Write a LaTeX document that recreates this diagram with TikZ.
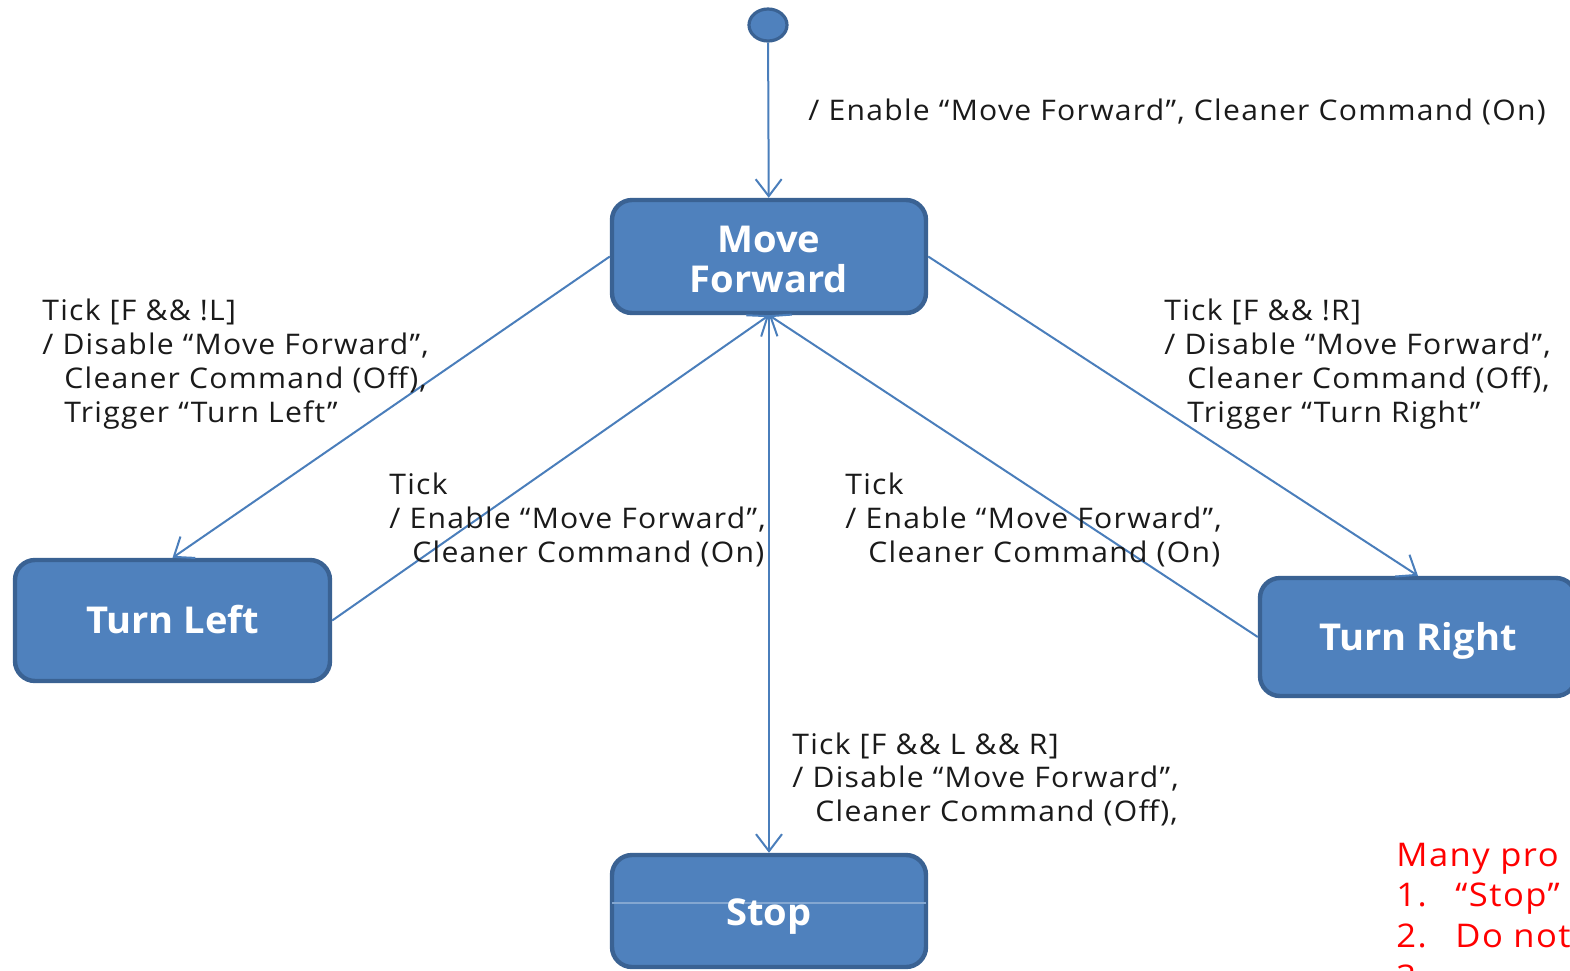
\documentclass[tikz,border=0pt]{standalone}
\usepackage{fontspec}
\setmainfont{Open Sans}[FakeStretch=1.06, LetterSpace=4.5]
\newfontfamily\statefont{Open Sans}[FakeStretch=1.03]
\usetikzlibrary{arrows.meta,shapes.geometric}
\definecolor{stfill}{HTML}{4F81BD}
\definecolor{stedge}{HTML}{3A6293}
\definecolor{wire}{HTML}{4A7EBB}
\definecolor{ink}{HTML}{1A1A1A}
\tikzset{
  state/.style={draw=stedge, line width=2.2pt, fill=stfill, rounded corners=10pt,
    text=white, font=\statefont\bfseries\fontsize{18.5}{20}\selectfont, align=center, inner sep=0pt},
  capline/.style={text height=13pt, text depth=0pt},
  trans/.style={draw=wire, line width=1pt, -{Straight Barb[length=8.5pt,width=13pt,line width=1pt]}},
  lbl/.style={anchor=base west, inner sep=0pt, text=ink, font=\fontsize{14.2}{17}\selectfont},
  note/.style={anchor=base west, inner sep=0pt, text=red, font=\fontsize{16.3}{20}\selectfont},
}
\begin{document}
\begin{tikzpicture}[x=0.5pt, y=-0.5pt]
  \useasboundingbox (0,0) rectangle (1570,970);
  \clip (0,0) rectangle (1570,970);

  % initial pseudo-state
  \node[draw=stedge, line width=1.6pt, fill=stfill, ellipse, minimum width=19pt, minimum height=16pt, inner sep=0pt] (init) at (768,25) {};

  % states
  \node[state, minimum width=157pt, minimum height=56.5pt] (mf) at (769,256.5) {};
  \node[state, draw=none, fill=none] (mflbl) at (769,259) {Move\\Forward};
  \node[state, capline, minimum width=157.5pt, minimum height=60.5pt] (tl) at (172.5,620.5) {Turn Left};
  \node[state, capline, minimum width=158pt, minimum height=59pt] (tr) at (1418,637) {Turn Right};
  \node[state, capline, minimum width=157pt, minimum height=56pt] (stop) at (769,911) {};
  \draw[color=stfill!70!white, line width=0.6pt] ([xshift=1.2pt,yshift=4pt]stop.west) -- ([xshift=-1.2pt,yshift=4pt]stop.east);
  \node[state, capline, draw=none, fill=none] (stoplbl) at (769,912) {Stop};

  % transitions
  \draw[trans] (init) -- (mf);
  \draw[trans] (mf.west) -- (tl.north);
  \draw[trans] (tl.east) -- (mf.south);
  \draw[trans] (mf.south) -- (stop.north);
  \draw[trans] (mf.east) -- (tr.north);
  \draw[trans] (tr.west) -- (mf.south);

  % transition labels
  \node[lbl] (t0) at (808,120) {/ Enable “Move Forward”, Cleaner Command (On)};

  \node[lbl] (t1a) at (42,320) {Tick [F \&\& !L]};
  \node[lbl] (t1b) at (42,354) {/ Disable “Move Forward”,};
  \node[lbl] (t1c) at (64,388) {Cleaner Command (Off),};
  \node[lbl] (t1d) at (64,422) {Trigger “Turn Left”};

  \node[lbl] (t2a) at (389,494) {Tick};
  \node[lbl] (t2b) at (389,528) {/ Enable “Move Forward”,};
  \node[lbl] (t2c) at (412,562) {Cleaner Command (On)};

  \node[lbl] (t3a) at (845,494) {Tick};
  \node[lbl] (t3b) at (845,528) {/ Enable “Move Forward”,};
  \node[lbl] (t3c) at (868,562) {Cleaner Command (On)};

  \node[lbl] (t4a) at (1164,320) {Tick [F \&\& !R]};
  \node[lbl] (t4b) at (1164,354) {/ Disable “Move Forward”,};
  \node[lbl] (t4c) at (1187,388) {Cleaner Command (Off),};
  \node[lbl] (t4d) at (1187,422) {Trigger “Turn Right”};

  \node[lbl] (t5a) at (792,754) {Tick [F \&\& L \&\& R]};
  \node[lbl] (t5b) at (792,787) {/ Disable “Move Forward”,};
  \node[lbl] (t5c) at (815,821) {Cleaner Command (Off),};

  % remark in the corner
  \node[note] (n0) at (1396,866) {Many pro};
  \node[note] (n1) at (1396,906) {\makebox[29.5pt][l]{1.}“Stop”};
  \node[note] (n2) at (1396,947) {\makebox[29.5pt][l]{2.}Do not};
  \node[note] (n3) at (1396,988) {\makebox[29.5pt][l]{3.}};
\end{tikzpicture}
\end{document}
